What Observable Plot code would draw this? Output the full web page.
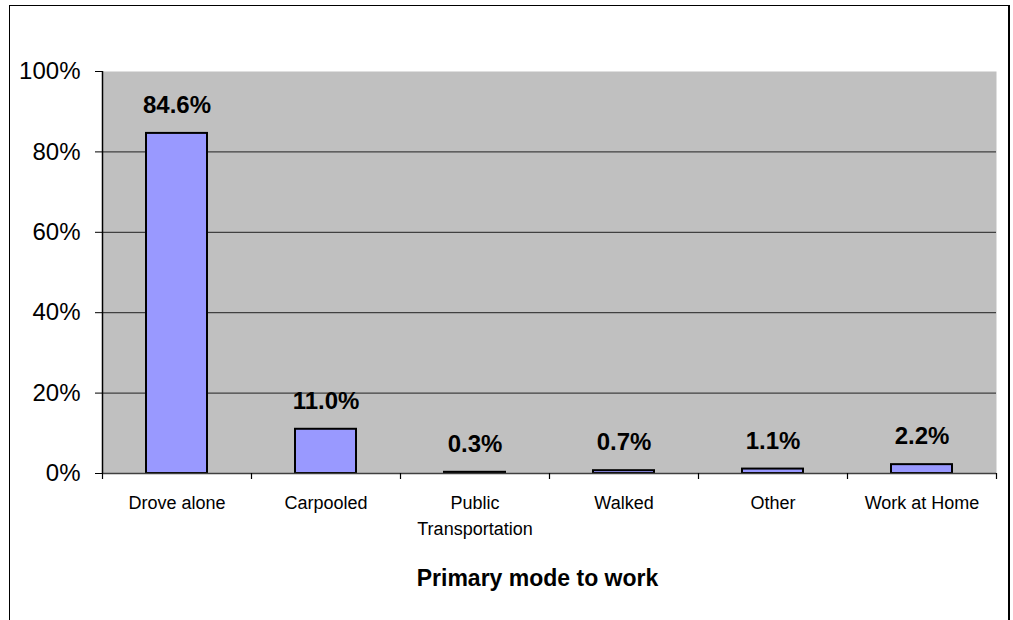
<!DOCTYPE html>
<html><head><meta charset="utf-8">
<script src="https://cdn.jsdelivr.net/npm/d3@7"></script>
<script src="https://cdn.jsdelivr.net/npm/@observablehq/plot@0.6"></script>
<style>
body{margin:0;background:#fff;font-family:"Liberation Sans",Arial,sans-serif;}
#wrap{position:relative;width:1013px;height:620px;overflow:hidden;}
#border{position:absolute;left:9px;top:5px;width:1001px;height:700px;border:1.5px solid #000;border-right-width:2px;box-sizing:border-box;pointer-events:none;}
#chart{position:absolute;left:0;top:0;}
</style></head><body>
<div id="wrap"><div id="chart"></div><div id="border"></div></div>
<script>
const categories = ["Drove alone","Carpooled","Public\nTransportation","Walked","Other","Work at Home"];
const shares = [0.846,0.110,0.003,0.007,0.011,0.022];
const yTicks = [0,0.2,0.4,0.6,0.8,1];
const gridTicks = [0.2,0.4,0.6,0.8];
const xTitle = "Primary mode to work";

const data = categories.map((c,i)=>({mode:c, share:shares[i]}));

const W = 1013, H = 620, ML = 102, MR = 17, MT = 71, MB = 147;
const step = (W - ML - MR) / categories.length;

const chart = Plot.plot({
  width: W, height: H,
  marginLeft: ML, marginRight: MR, marginTop: MT, marginBottom: MB,
  style: {fontFamily: '"Liberation Sans", Arial, sans-serif', color: "#000", background: "transparent", overflow: "visible"},
  x: {domain: categories, paddingInner: 0.59, paddingOuter: 0.295, axis: null},
  y: {domain: [0,1], axis: null},
  marks: [
    Plot.frame({fill: "#C0C0C0", stroke: null}),
    Plot.ruleY(gridTicks, {stroke: "#404040", strokeWidth: 1.2}),
    Plot.barY(data, {x: "mode", y: "share", fill: "#9999FF", stroke: "#000", strokeWidth: 2}),
    Plot.ruleY([0], {stroke: "#404040", strokeWidth: 1.5}),
    // category boundary ticks and left axis line
    Plot.ruleX(categories, {x: d => d, y1: -0.015, y2: 0, dx: -step/2, stroke: "#000", strokeWidth: 1.2}),
    Plot.ruleX([categories[categories.length-1]], {x: d => d, y1: -0.015, y2: 0, dx: step/2, stroke: "#000", strokeWidth: 1.2}),
    Plot.ruleX([categories[0]], {x: d => d, y1: 0, y2: 1, dx: -step/2, stroke: "#000", strokeWidth: 1.5}),
    Plot.axisY({ticks: yTicks, tickFormat: d3.format(".0%"), tickSize: 7, tickPadding: 15, fontSize: 24, label: null, stroke: "#000"}),
    Plot.text(data, {x: "mode", y: "share", text: d => d3.format(".1%")(d.share), dy: -28, fontSize: 24, fontWeight: "bold", fill: "#000"}),
    Plot.text(categories, {x: d => d, y: 0, text: d => d, lineAnchor: "top", dy: 17, fontSize: 18, lineHeight: 1.45, fill: "#000"}),
    Plot.text([xTitle], {frameAnchor: "bottom", text: d => d, dy: 112, dx: -12, fontSize: 23, fontWeight: "bold", fill: "#000"})
  ]
});
document.getElementById("chart").appendChild(chart);
</script>
</body></html>
